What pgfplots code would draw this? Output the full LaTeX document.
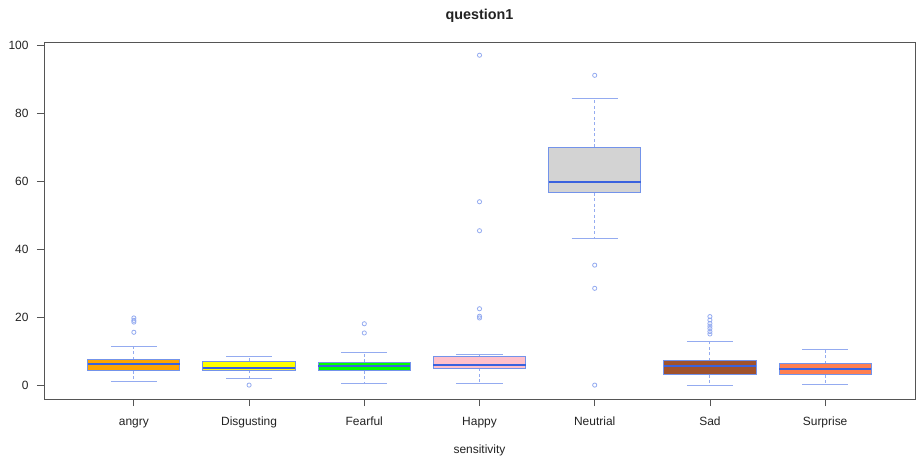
\documentclass[border=0pt]{standalone}
\usepackage{pgfplots}
\pgfplotsset{compat=1.18}
\usepgfplotslibrary{statistics}
\usepackage{fontspec}
\setmainfont{Liberation Sans}
\definecolor{bordercol}{HTML}{7393EA}
\definecolor{medcol}{HTML}{3A62DE}
\definecolor{whiskcol}{HTML}{94ABF0}
\definecolor{axcol}{HTML}{555555}
\definecolor{txtcol}{HTML}{222222}
\definecolor{cOrange}{HTML}{FFA500}
\definecolor{cYellow}{HTML}{FFFF00}
\definecolor{cGreen}{HTML}{00FF00}
\definecolor{cPink}{HTML}{FFC0CB}
\definecolor{cGray}{HTML}{D3D3D3}
\definecolor{cSienna}{HTML}{A0522D}
\definecolor{cCoral}{HTML}{FF7F50}
\pgfplotsset{
  /pgfplots/boxplot/draw direction=y,
  /pgfplots/boxplot/box extend=0.8,
  /pgfplots/boxplot/whisker extend=0.4,
  /pgfplots/boxplot/draw/box/.code={
    \draw[draw=bordercol, line width=1pt] (boxplot box cs:\pgfplotsboxplotvalue{lower quartile},0) rectangle (boxplot box cs:\pgfplotsboxplotvalue{upper quartile},1);
  },
  /pgfplots/boxplot/draw/median/.code={
    \draw[draw=medcol, line width=2pt, fill=none] (boxplot box cs:\pgfplotsboxplotvalue{median},0) -- (boxplot box cs:\pgfplotsboxplotvalue{median},1);
  },
  /pgfplots/boxplot/draw/lower whisker/.code={
    \draw[draw=whiskcol, line width=1pt, dash pattern=on 3bp off 2.5bp, fill=none] (boxplot box cs:\pgfplotsboxplotvalue{lower quartile},0.5) -- (boxplot box cs:\pgfplotsboxplotvalue{lower whisker},0.5);
    \draw[draw=whiskcol, line width=1pt, fill=none] (boxplot whisker cs:\pgfplotsboxplotvalue{lower whisker},0) -- (boxplot whisker cs:\pgfplotsboxplotvalue{lower whisker},1);
  },
  /pgfplots/boxplot/draw/upper whisker/.code={
    \draw[draw=whiskcol, line width=1pt, dash pattern=on 3bp off 2.5bp, fill=none] (boxplot box cs:\pgfplotsboxplotvalue{upper quartile},0.5) -- (boxplot box cs:\pgfplotsboxplotvalue{upper whisker},0.5);
    \draw[draw=whiskcol, line width=1pt, fill=none] (boxplot whisker cs:\pgfplotsboxplotvalue{upper whisker},0) -- (boxplot whisker cs:\pgfplotsboxplotvalue{upper whisker},1);
  },
}
\begin{document}
\begin{tikzpicture}
\useasboundingbox (-44bp,-62bp) rectangle (872bp,399bp);
\begin{axis}[
  at={(0,0)}, anchor=south west,
  scale only axis, width=871bp, height=357bp,
  xmin=0.22, xmax=7.78, ymin=-3.88, ymax=100.88,
  xtick={1,...,7},
  xticklabels={angry,Disgusting,Fearful,Happy,Neutrial,Sad,Surprise},
  ytick={0,20,...,100},
  xtick pos=bottom, ytick pos=left,
  tick align=outside, major tick length=7bp,
  tick style={axcol, line width=0.8pt},
  axis line style={axcol, line width=0.8pt},
  /pgf/number format/assume math mode=true,
  ticklabel style={font=\fontsize{12}{14}\selectfont, text=txtcol},
  xticklabel style={anchor=base, yshift=-19bp},
  yticklabel style={anchor=east, xshift=-5bp},
  title={question1},
  title style={at={(axis description cs:0.5,1)}, anchor=base, yshift=17bp, font=\fontsize{14.4}{16}\selectfont\bfseries, text=txtcol},
  xlabel={sensitivity},
  xlabel style={at={(axis description cs:0.5,0)}, anchor=base, yshift=-54bp, font=\fontsize{12}{14}\selectfont, text=txtcol},
  every axis plot/.append style={mark=o, mark size=2.1bp, mark options={draw=whiskcol, line width=0.8pt, solid, fill=none}},
]
\addplot[fill=cOrange, boxplot prepared={draw position=1, lower whisker=1.4, lower quartile=4.45, median=6.4, upper quartile=7.67, upper whisker=11.4}]
  coordinates {(0,15.7) (0,18.7) (0,19.2) (0,19.9)};
\addplot[fill=cYellow, boxplot prepared={draw position=2, lower whisker=2.2, lower quartile=4.5, median=5.1, upper quartile=7.2, upper whisker=8.65}]
  coordinates {(0,0.2)};
\addplot[fill=cGreen, boxplot prepared={draw position=3, lower whisker=0.8, lower quartile=4.35, median=5.8, upper quartile=6.9, upper whisker=9.7}]
  coordinates {(0,15.5) (0,18.2)};
\addplot[fill=cPink, boxplot prepared={draw position=4, lower whisker=0.8, lower quartile=5.1, median=6.2, upper quartile=8.55, upper whisker=9.2}]
  coordinates {(0,97) (0,54.0) (0,45.5) (0,22.6) (0,20.4) (0,19.9)};
\addplot[fill=cGray, boxplot prepared={draw position=5, lower whisker=43.2, lower quartile=56.7, median=59.9, upper quartile=70.0, upper whisker=84.4}]
  coordinates {(0,91.1) (0,35.4) (0,28.6) (0,0.2)};
\addplot[fill=cSienna, boxplot prepared={draw position=6, lower whisker=0.05, lower quartile=3.2, median=5.8, upper quartile=7.3, upper whisker=13.1}]
  coordinates {(0,15.2) (0,15.9) (0,16.8) (0,17.5) (0,18.3) (0,19.3) (0,20.3)};
\addplot[fill=cCoral, boxplot prepared={draw position=7, lower whisker=0.5, lower quartile=3.2, median=5.0, upper quartile=6.5, upper whisker=10.7}]
  coordinates {};
\end{axis}
\end{tikzpicture}
\end{document}
